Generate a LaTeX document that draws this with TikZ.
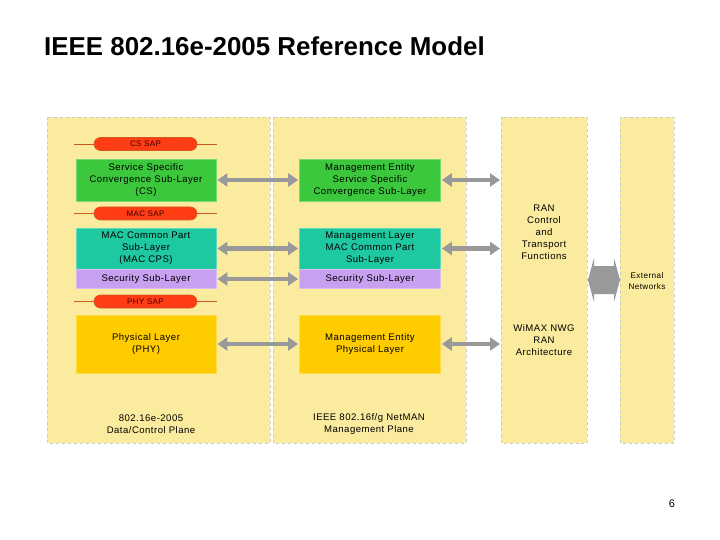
\documentclass[tikz,border=0pt]{standalone}
\usepackage{fontspec}
\setmainfont{Liberation Sans}
\newfontfamily\spacedsans[LetterSpace=5]{Liberation Sans}
\usetikzlibrary{arrows.meta,shapes.misc}
\definecolor{panel}{HTML}{FAEB9E}
\definecolor{csgreen}{HTML}{3CC83C}
\definecolor{macteal}{HTML}{1EC8A0}
\definecolor{seclav}{HTML}{C8A0F0}
\definecolor{phyyel}{HTML}{FFCC00}
\definecolor{sapred}{HTML}{FF3C14}
\definecolor{sapline}{HTML}{D0581C}
\definecolor{arrgray}{HTML}{999999}
\tikzset{
  panelbox/.style={fill=panel, draw=black!20, dashed, line width=0.6bp},
  layerbox/.style={draw=#1!70!white, line width=0.8bp, fill=#1, inner sep=0pt, align=center, font=\spacedsans\fontsize{9.6}{12}\selectfont},
  txt/.style={align=center, font=\spacedsans\fontsize{9.6}{12}\selectfont, inner sep=0pt},
  sappill/.style={rounded rectangle, fill=sapred, draw=sapline, line width=0.6bp, minimum width=103bp, minimum height=13bp, inner sep=0pt, font=\spacedsans\fontsize{8}{9}\selectfont, text=black!75!red},
  sapline/.style={draw=sapline, line width=0.8bp},
  dblarrow/.style={draw=arrgray, line width=4.5bp, {Triangle[length=10bp,width=13bp]}-{Triangle[length=10bp,width=13bp]}, shorten <=1bp, shorten >=1bp}
}
\begin{document}
\begin{tikzpicture}[x=1bp,y=-1bp]
\useasboundingbox (0,0) rectangle (720,540);
\fill[white] (0,0) rectangle (720,540);
% title
\node[anchor=west, inner sep=0pt, font=\fontsize{26}{30}\bfseries\selectfont] (title) at (44,46) {IEEE 802.16e-2005 Reference Model};
% panels
\draw[panelbox] (47,117) rectangle (270,443);
\draw[panelbox] (273,117) rectangle (466,443);
\draw[panelbox] (501,117) rectangle (587,443);
\draw[panelbox] (620,117) rectangle (674,443);
% SAP lines and pills
\coordinate (csL) at (74,144); \coordinate (csR) at (217,144);
\draw[sapline] (csL) -- (csR);
\node[sappill] (cssap) at (145.5,144) {CS SAP};
\coordinate (macL) at (74,213.5); \coordinate (macR) at (217,213.5);
\draw[sapline] (macL) -- (macR);
\node[sappill] (macsap) at (145.5,213.5) {MAC SAP};
\coordinate (phyL) at (74,301.5); \coordinate (phyR) at (217,301.5);
\draw[sapline] (phyL) -- (phyR);
\node[sappill] (physap) at (145.5,301.5) {PHY SAP};
% panel 1 boxes
\node[layerbox=csgreen, minimum width=140bp, minimum height=42bp] (cs) at (146,180) {Service Specific\\Convergence Sub-Layer\\(CS)};
\node[layerbox=macteal, minimum width=140bp, minimum height=41bp] (mac) at (146,248.5) {MAC Common Part\\Sub-Layer\\(MAC CPS)};
\node[layerbox=seclav, minimum width=140bp, minimum height=19bp] (sec) at (146,279) {Security Sub-Layer};
\node[layerbox=phyyel, minimum width=140bp, minimum height=58bp] (phy) at (146,344) {Physical Layer\\(PHY)};
\node[txt] (cap1) at (151,424) {802.16e-2005\\Data/Control Plane};
% panel 2 boxes
\node[layerbox=csgreen, minimum width=141bp, minimum height=42bp] (mecs) at (370,180) {Management Entity\\Service Specific\\Convergence Sub-Layer};
\node[layerbox=macteal, minimum width=141bp, minimum height=41bp] (memac) at (370,248.5) {Management Layer\\MAC Common Part\\Sub-Layer};
\node[layerbox=seclav, minimum width=141bp, minimum height=19bp] (mesec) at (370,279) {Security Sub-Layer};
\node[layerbox=phyyel, minimum width=141bp, minimum height=58bp] (mephy) at (370,344) {Management Entity\\Physical Layer};
\node[txt] (cap2) at (369,424) {IEEE 802.16f/g NetMAN\\Management Plane};
% panel 3 / 4 texts
\node[txt] (ran) at (544,232) {RAN\\Control\\and\\Transport\\Functions};
\node[txt] (wimax) at (544,340) {WiMAX NWG\\RAN\\Architecture};
\node[txt, font=\spacedsans\fontsize{8.2}{11}\selectfont] (ext) at (647,281.5) {External\\Networks};
% panel edges
\coordinate (p3a) at (501,180);
\coordinate (p3b) at (501,248.5);
\coordinate (p3c) at (501,344);
% arrows
\draw[dblarrow] (cs.east) -- (mecs.west);
\draw[dblarrow] (mac.east) -- (memac.west);
\draw[dblarrow] (sec.east) -- (mesec.west);
\draw[dblarrow] (phy.east) -- (mephy.west);
\draw[dblarrow] (mecs.east) -- (p3a);
\draw[dblarrow] (memac.east) -- (p3b);
\draw[dblarrow] (mephy.east) -- (p3c);
% big external arrow
\coordinate (bigL) at (588,280);
\coordinate (bigR) at (620,280);
\fill[arrgray] (bigL) -- (594,258) -- (594,266) -- (614,266) -- (614,258) -- (bigR) -- (614,302) -- (614,294) -- (594,294) -- (594,302) -- cycle;
% page number
\node[inner sep=0pt, font=\fontsize{11}{13}\selectfont] (pg) at (672,504) {6};
\end{tikzpicture}
\end{document}
